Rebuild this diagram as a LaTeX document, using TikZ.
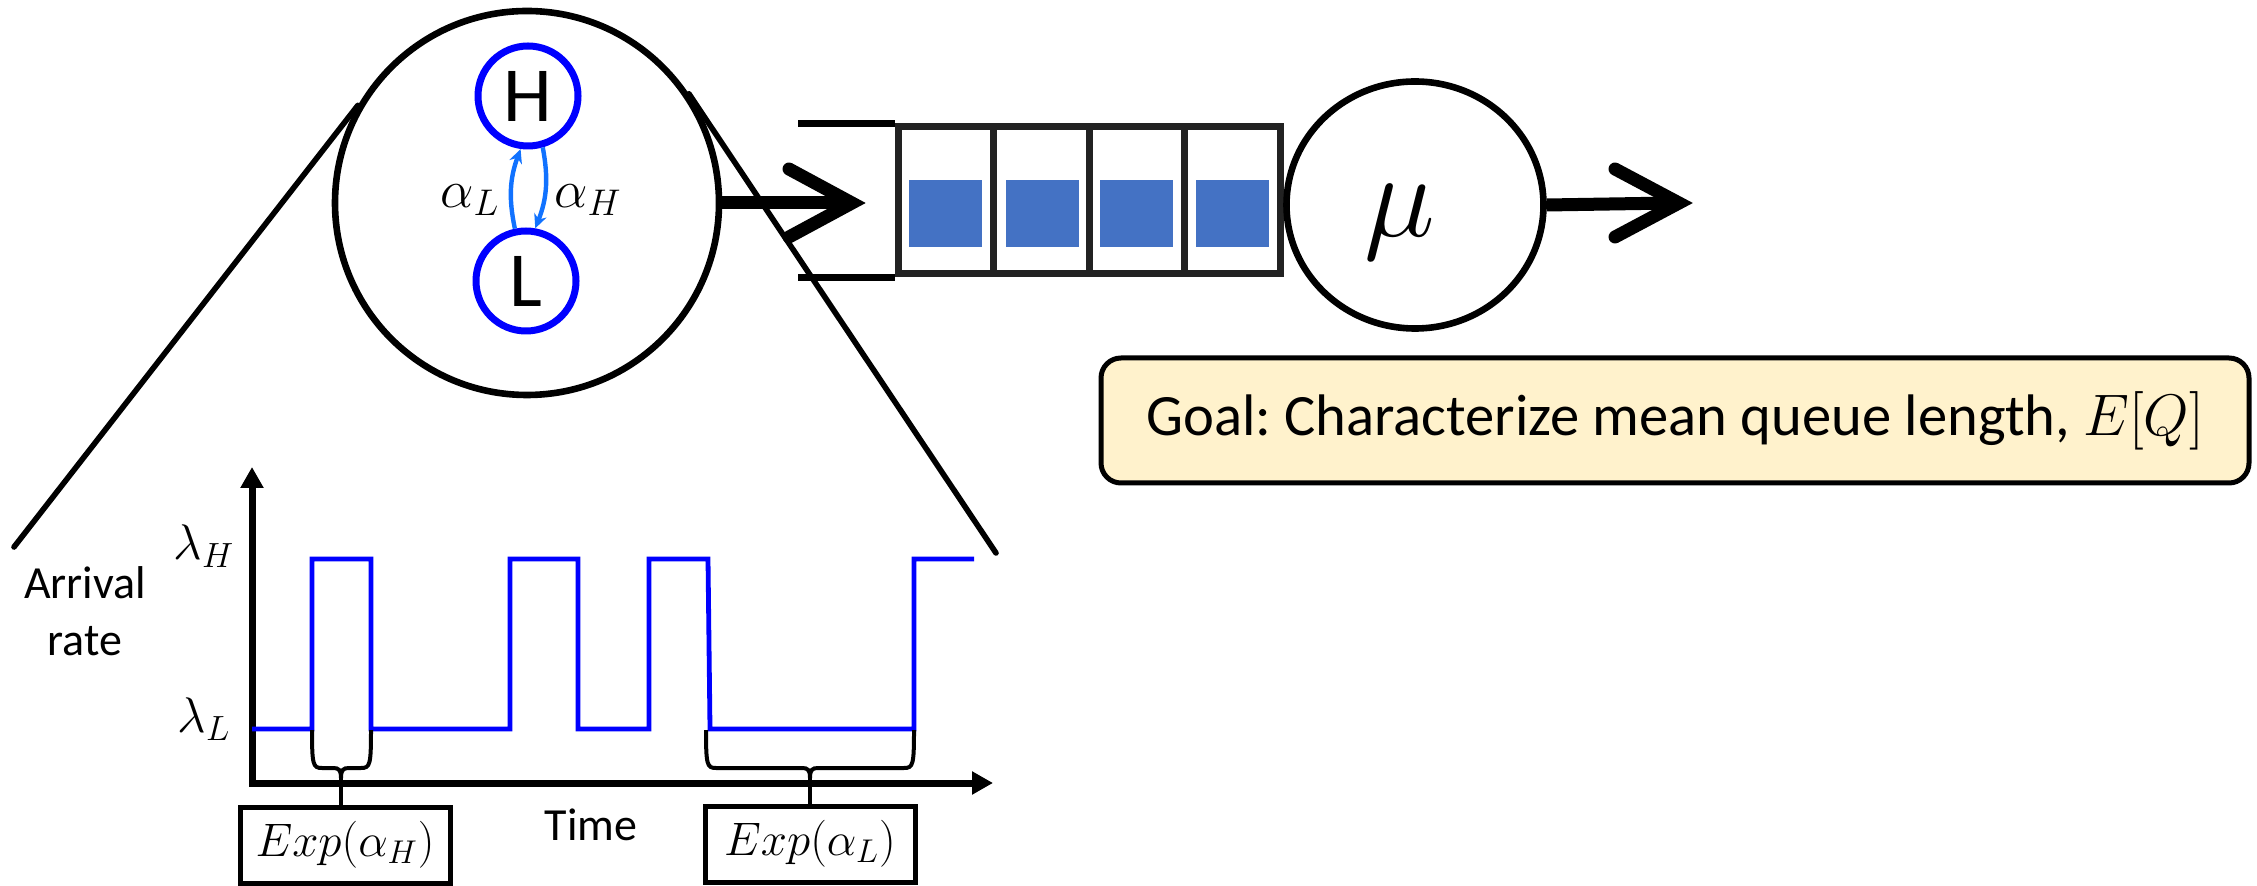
\documentclass[tikz,border=0pt]{standalone}
\DeclareFontShape{OML}{cmm}{m}{it}{<-6>cmmi5<6-7>cmmi6<7-8>cmmi7<8-9>cmmi8<9-10>cmmi9<10-12>cmmi10<12->cmmi12}{}
\DeclareFontShape{OT1}{cmr}{m}{n}{<-6>cmr5<6-7>cmr6<7-8>cmr7<8-9>cmr8<9-10>cmr9<10-12>cmr10<12-17>cmr12<17->cmr17}{}
\DeclareFontShape{OMS}{cmsy}{m}{n}{<-6>cmsy5<6-7>cmsy6<7-8>cmsy7<8-10>cmsy8<10->cmsy10}{}
\DeclareFontShape{OMX}{cmex}{m}{n}{<->cmex10}{}
\usepackage{fontspec}
\setmainfont{Carlito}
\usetikzlibrary{arrows.meta,shapes.geometric}
\definecolor{hblue}{RGB}{0,0,255}
\definecolor{ablue}{RGB}{17,114,255}
\definecolor{qblue}{HTML}{4472C4}
\definecolor{goalfill}{HTML}{FFF2CC}
\definecolor{qgray}{HTML}{222222}
\frenchspacing
\begin{document}
\begin{tikzpicture}[x=0.5pt,y=-0.5pt,
  statenode/.style={circle, draw=hblue, line width=3.5pt, minimum size=50pt, inner sep=0pt, font=\fontsize{39}{44}\selectfont},
  aarrow/.style={ablue, line width=2.2pt, -{Stealth[length=7pt,width=6.5pt]}},
  callout/.style={line width=2.8pt, line cap=round},
  chev/.style={line width=6.5pt, line cap=round, line join=miter},
  shaft/.style={line width=6.5pt},
  qcell/.style={rectangle, draw=qgray, line width=3.5pt, minimum width=47.75pt, minimum height=73.5pt, inner sep=0pt},
  qitem/.style={rectangle, fill=qblue, minimum width=36.5pt, minimum height=33.5pt, inner sep=0pt},
  goalbox/.style={rectangle, rounded corners=10pt, draw, line width=2.5pt, fill=goalfill, minimum width=574pt, minimum height=62.5pt, inner sep=0pt, font=\fontsize{29.3}{34}\selectfont},
  axis/.style={line width=3.5pt, line join=miter, {Triangle[length=10.5pt,width=11pt]}-{Triangle[length=10.5pt,width=11pt]}},
  sig/.style={hblue, line width=2.4pt},
  bracepath/.style={line width=2pt},
  expbox/.style={rectangle, draw, line width=2.5pt, minimum width=105pt, minimum height=38pt, inner sep=0pt, font=\fontsize{23.5}{28}\selectfont},
  txt/.style={font=\fontsize{23}{27}\selectfont, inner sep=0pt},
  mathlbl/.style={font=\fontsize{25}{29}\selectfont, inner sep=0pt}
]
\useasboundingbox (0,0) rectangle (2257,886);

% magnified circle with the two-state chain
\node[circle, draw, line width=3.3pt, minimum size=192pt, inner sep=0pt] (big) at (527,203) {};
\node[statenode] (H) at (528,96) {H};
\node[statenode] (L) at (526,281) {L};
\draw[aarrow] (L.102) to[bend left=16] (H.262);
\draw[aarrow] (H.-74) to[bend left=16] (L.80);
\node[font=\fontsize{26.5}{30}\selectfont, inner sep=0pt] (aL) at (470,200) {$\alpha_L$};
\node[font=\fontsize{26.5}{30}\selectfont, inner sep=0pt] (aH) at (588,200) {$\alpha_H$};

% callout lines
\coordinate (cl) at (14,547);
\coordinate (cr) at (996,553);
\draw[callout] (big.150) -- (cl);
\draw[callout] (big.34) -- (cr);

% arrow into the queue
\coordinate (in1) at (852,203);
\draw[shaft] (big.east) -- ([xshift=-3pt]in1);
\draw[chev] (789,169) -- (in1) -- (789,237);

% queue
\node[qcell] (q1) at (945.75,200.5) {};
\node[qcell] (q2) at (1041.25,200.5) {};
\node[qcell] (q3) at (1136.75,200.5) {};
\node[qcell] (q4) at (1232.25,200.5) {};
\draw[line width=3.5pt] (q1.north west) -- ++(-97,0);
\draw[line width=3.5pt] (q1.south west) -- ++(-97,0);
\node[qitem] (b1) at (945.5,214) {};
\node[qitem] (b2) at (1042,214) {};
\node[qitem] (b3) at (1136.5,214) {};
\node[qitem] (b4) at (1232.5,214) {};

% server
\node[ellipse, draw, line width=3.3pt, minimum width=128.5pt, minimum height=123.5pt, inner sep=0pt] (mu) at (1415,205) {};
\node[font=\fontsize{60}{66}\selectfont, inner sep=0pt] (mulbl) at (1400,222) {$\mu$};
\coordinate (out1) at (1679,203);
\draw[shaft] (mu.east) -- ([xshift=-3pt]out1);
\draw[chev] (1615,169) -- (out1) -- (1615,237);

% goal
\node[goalbox] (goal) at (1675,420.5) {Goal: Characterize mean queue length, $E[Q]$};

% chart
\draw[axis] (252,467) |- (993,783);
\node[txt, anchor=base] (arr) at (85,598) {Arrival};
\node[txt, anchor=base] (rate) at (85,655) {rate};
\node[mathlbl] (lH) at (204,546) {$\lambda_H$};
\node[mathlbl] (lL) at (204,719) {$\lambda_L$};
\node[txt, anchor=base] (time) at (591,840) {Time};
\draw[sig] (252,729) -- (312,729) -- (312,559) -- (371,559) -- (371,729) -- (510,729) -- (510,559) -- (578,559) -- (578,729) -- (649,729) -- (649,559) -- (708,559) -- (710,729) -- (914,729) -- (914,559) -- (974,559);

% braces and boxes
\node[expbox] (e1) at (345,845) {$Exp(\alpha_H)$};
\node[expbox] (e2) at (810,844) {$Exp(\alpha_L)$};
\coordinate (t1) at (341,778);
\coordinate (t2) at (810,778);
\draw[bracepath] (312,730) .. controls (312,765) and (313,768) .. (322,768) -- (333,768) .. controls (339,768) and (341,770) .. (t1) .. controls (341,770) and (343,768) .. (349,768) -- (361,768) .. controls (370,768) and (371,765) .. (371,730);
\draw[bracepath] (t1) -- (t1 |- e1.north);
\draw[bracepath] (706,730) .. controls (706,765) and (707,768) .. (716,768) -- (802,768) .. controls (808,768) and (810,770) .. (t2) .. controls (810,770) and (812,768) .. (818,768) -- (904,768) .. controls (913,768) and (914,765) .. (914,730);
\draw[bracepath] (t2) -- (t2 |- e2.north);
\end{tikzpicture}
\end{document}
